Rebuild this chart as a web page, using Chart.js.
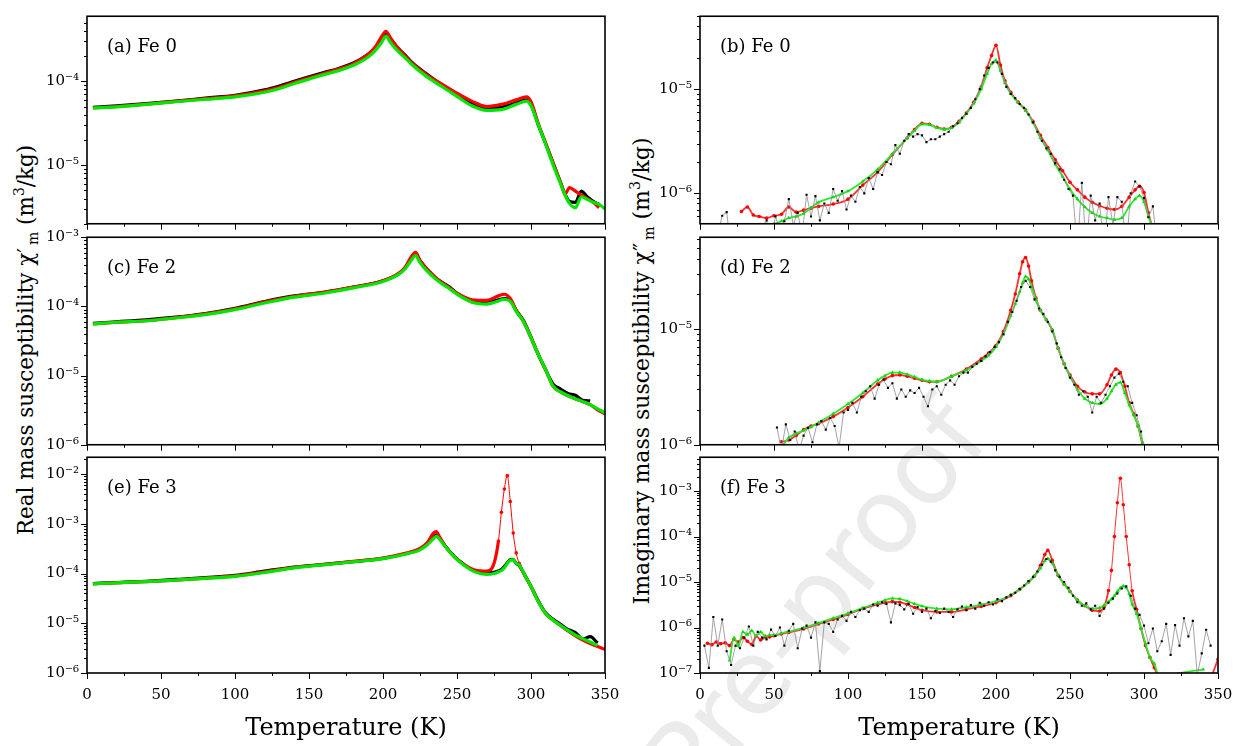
<!DOCTYPE html>
<html>
<head>
<meta charset="utf-8">
<script src="https://cdn.jsdelivr.net/npm/chart.js@4.4.1/dist/chart.umd.min.js"></script>
<style>
  body { margin: 0; background: #fff; width: 1247px; height: 746px; overflow: hidden; position: relative; font-family: "DejaVu Serif", serif; }
  .panel { position: absolute; }
  .yt { position: absolute; white-space: nowrap; color: #000; transform: translate(-50%, -50%) rotate(-90deg); }
  .yt sup, .yt sub { font-size: 0.65em; line-height: 0; }
  .wm { position: absolute; left: 815px; top: 600px; white-space: nowrap; font: 104px "DejaVu Sans", sans-serif; color: #ebebeb; transform: translate(-50%, -50%) rotate(-51deg); }
</style>
</head>
<body>
<div class="wm">Pre-proof</div>
<div class="yt" style="left:25px;top:340px;font-size:21.5px">Real mass susceptibility χ′<sub>&thinsp;m</sub> (m<sup>3</sup>/kg)</div>
<div class="yt" style="left:641px;top:371px;font-size:22px">Imaginary mass susceptibility χ″<sub>&thinsp;m</sub> (m<sup>3</sup>/kg)</div>

<script>
// (a) Fe 0, real part
const aT = [4,20,40,60,80,100,120,130,140,150,160,170,180,190,195,199,202,205,210,215,220,230,240,250,260,270,280,290,297,300,305,310,315,320,323,326,330,334,338,342,346,350];
const aBlack = [4.9e-5,5.1e-5,5.4e-5,5.8e-5,6.3e-5,6.8e-5, 7.9e-5,8.8e-5,1.0e-4,1.13e-4,1.27e-4,1.42e-4,1.65e-4,2.1e-4, 2.5e-4,3.1e-4,3.65e-4,3.2e-4,2.5e-4,2.05e-4,1.65e-4,1.2e-4, 9.0e-5,7.0e-5,5.5e-5,4.8e-5,4.9e-5,5.5e-5,6.0e-5,5.3e-5, 3.0e-5,1.8e-5,1.05e-5,6.2e-6,4.5e-6,3.7e-6,3.6e-6,4.9e-6, 4.2e-6,3.7e-6,3.4e-6,null];
const aRed = [4.8e-5,5.0e-5,5.35e-5,5.75e-5,6.2e-5,6.7e-5, 7.7e-5,8.5e-5,9.7e-5,1.1e-4,1.24e-4,1.4e-4,1.62e-4,2.1e-4, 2.6e-4,3.4e-4,3.95e-4,3.3e-4,2.5e-4,2.0e-4,1.62e-4,1.18e-4, 9.2e-5,7.2e-5,5.8e-5,5.0e-5,5.3e-5,6.0e-5,6.5e-5,5.7e-5, 3.1e-5,1.8e-5,1.05e-5,6.2e-6,4.5e-6,5.4e-6,4.9e-6,4.4e-6, 4.0e-6,3.6e-6,3.1e-6,null];
const aGreen = [4.8e-5,4.95e-5,5.3e-5,5.7e-5,6.1e-5,6.5e-5, 7.4e-5,8.2e-5,9.4e-5,1.06e-4,1.2e-4,1.34e-4,1.55e-4,1.95e-4, 2.35e-4,2.9e-4,3.45e-4,2.9e-4,2.3e-4,1.9e-4,1.55e-4,1.12e-4, 8.6e-5,6.6e-5,5.1e-5,4.5e-5,4.6e-5,5.3e-5,5.8e-5,5.1e-5, 3.0e-5,1.75e-5,1.0e-5,6.0e-6,4.4e-6,3.5e-6,3.1e-6,4.2e-6, 3.9e-6,3.6e-6,3.4e-6,3.0e-6];

// (c) Fe 2, real part
const cT = [4,20,40,60,80,100,120,140,160,180,200,210,215,219,222,225,230,237,245,250,260,270,278,282,286,290,295,300,305,310,315,320,325,330,335,340,345,350];
const cBlack = [5.7e-5,6.0e-5,6.4e-5,7.0e-5,7.9e-5,9.4e-5, 1.18e-4,1.42e-4,1.6e-4,1.9e-4,2.35e-4,2.9e-4, 3.6e-4,4.9e-4,5.7e-4,4.6e-4,3.4e-4,2.45e-4, 1.9e-4,1.55e-4,1.22e-4,1.15e-4,1.25e-4,1.3e-4, 1.22e-4,8.8e-5,6.2e-5,3.6e-5,2.0e-5,1.2e-5, 7.5e-6,6.4e-6,5.5e-6,5.2e-6,4.4e-6,4.3e-6, null,null];
const cRed = [5.6e-5,5.9e-5,6.2e-5,6.9e-5,7.8e-5,9.2e-5, 1.16e-4,1.4e-4,1.6e-4,1.9e-4,2.35e-4,2.95e-4, 3.7e-4,5.2e-4,6.05e-4,4.6e-4,3.4e-4,2.45e-4, 1.85e-4,1.55e-4,1.25e-4,1.22e-4,1.42e-4,1.5e-4, 1.3e-4,8.8e-5,6.0e-5,3.5e-5,2.0e-5,1.2e-5, 7.0e-6,5.8e-6,5.1e-6,4.6e-6,4.2e-6,3.8e-6, 3.2e-6,2.8e-6];
const cGreen = [5.6e-5,5.9e-5,6.2e-5,6.8e-5,7.6e-5,9.0e-5, 1.12e-4,1.36e-4,1.55e-4,1.85e-4,2.3e-4,2.85e-4, 3.5e-4,4.6e-4,5.45e-4,4.3e-4,3.2e-4,2.35e-4, 1.8e-4,1.5e-4,1.15e-4,1.08e-4,1.2e-4,1.27e-4, 1.18e-4,8.5e-5,6.0e-5,3.5e-5,2.0e-5,1.2e-5, 7.0e-6,5.8e-6,5.1e-6,4.6e-6,4.2e-6,3.8e-6, 3.3e-6,2.9e-6];

// (e) Fe 3, real part
const eT = [4,20,40,60,80,100,120,140,160,180,200,215,225,230,234,236,238,242,248,255,262,270,275,278,280,282,284,286,288,290,292,296,300,305,310,315,320,325,330,335,340,345,350];
const eBlack = [6.3e-5,6.6e-5,7.0e-5,7.6e-5,8.3e-5,9.2e-5, 1.12e-4,1.35e-4,1.53e-4,1.74e-4,2.02e-4,2.5e-4, 3.1e-4,4.0e-4,5.4e-4,6.0e-4,5.3e-4,3.6e-4, 2.25e-4,1.5e-4,1.12e-4,1.02e-4,1.06e-4,1.12e-4, 1.2e-4,1.38e-4,1.65e-4,1.9e-4,1.9e-4,1.6e-4, 1.45e-4,9.0e-5,5.5e-5,2.8e-5,1.6e-5,1.2e-5, 9.5e-6,7.5e-6,6.5e-6,4.8e-6,5.4e-6,4.0e-6, null];
const eRed = [6.2e-5,6.5e-5,6.9e-5,7.4e-5,8.1e-5,9.0e-5, 1.08e-4,1.33e-4,1.52e-4,1.75e-4,2.05e-4,2.55e-4, 3.2e-4,4.2e-4,6.4e-4,7.0e-4,5.6e-4,3.6e-4, 2.2e-4,1.5e-4,1.18e-4,1.12e-4,1.6e-4,4.5e-4, 1.7e-3,5.0e-3,9.3e-3,2.8e-3,6.5e-4,2.6e-4, 1.6e-4,9.0e-5,5.5e-5,2.7e-5,1.55e-5,1.15e-5, 9.0e-6,7.0e-6,5.6e-6,4.6e-6,3.9e-6,3.4e-6, 3.0e-6];
const eGreen = [6.2e-5,6.5e-5,6.9e-5,7.4e-5,8.0e-5,8.8e-5, 1.05e-4,1.3e-4,1.5e-4,1.72e-4,2.0e-4,2.45e-4, 3.0e-4,3.8e-4,5.0e-4,5.6e-4,5.0e-4,3.5e-4, 2.2e-4,1.45e-4,1.08e-4,9.6e-5,1.0e-4,1.08e-4, 1.15e-4,1.3e-4,1.6e-4,1.85e-4,1.9e-4,1.6e-4, 1.5e-4,9.0e-5,5.5e-5,2.7e-5,1.55e-5,1.15e-5, 9.0e-6,7.2e-6,5.8e-6,4.9e-6,4.2e-6,3.6e-6, null];

// (b) Fe 0, imaginary part
const bT = [28,32,36,40,45,50,55,60,65,70,75,80,90,100,110,120,130,140,145,150,155,160,165,170,175,180,185,190,194,197,200,203,206,210,215,220,225,230,235,240,245,250,255,260,265,270,275,280,285,290,294,297,300,303,306];
const bRed = [6.7e-7,7.4e-7,6.2e-7,6.0e-7,5.8e-7,6.1e-7, 6.3e-7,7.4e-7,6.6e-7,6.9e-7,7.2e-7,7.5e-7, 7.9e-7,8.8e-7,1.2e-6,1.6e-6,2.35e-6,3.4e-6, 4.1e-6,4.7e-6,4.6e-6,4.3e-6,4.15e-6,4.3e-6, 4.9e-6,5.9e-6,7.5e-6,1.05e-5,1.6e-5,2.1e-5, 2.63e-5,1.7e-5,1.2e-5,9.3e-6,7.5e-6,6.3e-6, 4.9e-6,3.6e-6,2.75e-6,2.1e-6,1.65e-6,1.28e-6, 1.08e-6,9.2e-7,8.2e-7,7.6e-7,7.2e-7,7.0e-7, 7.5e-7,9.2e-7,1.08e-6,1.17e-6,1.02e-6,6.5e-7, 4.5e-7];
const bGreen = [null,null,null,null,4.8e-7,5.1e-7, 5.4e-7,5.8e-7,6.0e-7,6.4e-7,7.3e-7,8.2e-7, 9.2e-7,1.05e-6,1.3e-6,1.7e-6,2.4e-6,3.4e-6, 4.0e-6,4.6e-6,4.55e-6,4.25e-6,4.1e-6,4.25e-6, 4.8e-6,5.8e-6,7.3e-6,1.0e-5,1.4e-5,1.75e-5, 1.89e-5,1.5e-5,1.15e-5,9.0e-6,7.4e-6,6.2e-6, 4.8e-6,3.4e-6,2.6e-6,1.9e-6,1.45e-6,1.1e-6, 8.8e-7,7.4e-7,6.5e-7,6.0e-7,5.8e-7,5.6e-7, 5.8e-7,7.5e-7,8.8e-7,9.5e-7,8.3e-7,6.0e-7, 4.5e-7];
const bBlackT = [12,15,18,21,24,27,30,33,36,39,42,45,48,51,54,57,60,63,66,69,72,75,78,81,84,87,90,93,96,99,102,105,108,111,114,117,120,123,126,129,132,135,138,141,144,147,150,153,156,159,162,165,168,171,174,177,180,183,186,189,192,195,198,201,204,207,210,213,216,219,222,225,228,231,234,237,240,243,246,249,252,255,258,261,264,267,270,273,276,279,282,285,288,291,294,297,300,303,306,309];
const bBlack = [4.0e-7,6.1e-7,6.6e-7,3.0e-7,4.0e-7,3.0e-7,4.5e-7,3.5e-7,4.2e-7,3.0e-7, 4.8e-7,5.5e-7,3.5e-7,6.0e-7,4.5e-7,5.4e-7,8.8e-7,5.0e-7,6.5e-7,4.0e-7, 9.7e-7,6.0e-7,9.4e-7,5.5e-7,8.0e-7,6.5e-7,1.1e-6,8.5e-7,1.05e-6,7.0e-7, 9.5e-7,8.3e-7,1.15e-6,1.0e-6,1.4e-6,1.1e-6,1.6e-6,1.5e-6,2.0e-6,1.9e-6, 2.9e-6,2.4e-6,3.2e-6,3.7e-6,3.5e-6,3.7e-6,3.6e-6,3.1e-6,3.3e-6,3.3e-6, 3.5e-6,3.7e-6,3.9e-6,4.4e-6,4.7e-6,5.3e-6,5.8e-6,6.6e-6,8.0e-6,1.0e-5, 1.35e-5,1.6e-5,1.8e-5,1.8e-5,1.4e-5,1.05e-5,9.0e-6,8.2e-6,7.2e-6,6.6e-6, 5.7e-6,4.8e-6,3.9e-6,3.2e-6,2.7e-6,2.4e-6,1.95e-6,1.7e-6,1.35e-6,1.1e-6, 9.5e-7,3.0e-7,1.26e-6,3.0e-7,9.5e-7,5.5e-7,8.0e-7,3.0e-7,9.2e-7,5.0e-7, 9.2e-7,8.3e-7,3.0e-7,1.0e-6,1.3e-6,1.17e-6,9.0e-7,5.9e-7,7.5e-7,3.0e-7];

// (d) Fe 2, imaginary part
const dT = [55,60,65,70,75,80,90,100,110,120,125,130,135,140,145,150,155,160,170,180,190,195,200,205,210,213,216,218,220,222,224,227,230,234,238,242,246,250,255,260,265,270,275,278,281,284,287,290,293,296,299,302];
const dRed = [1.06e-6,1.1e-6,1.2e-6,1.35e-6,1.45e-6,1.52e-6, 1.75e-6,2.1e-6,2.6e-6,3.35e-6,3.7e-6,3.95e-6, 4.0e-6,3.9e-6,3.75e-6,3.6e-6,3.5e-6,3.5e-6, 3.9e-6,4.5e-6,5.5e-6,6.2e-6,7.2e-6,9.5e-6, 1.45e-5,2.0e-5,3.0e-5,3.8e-5,4.13e-5,3.5e-5, 2.6e-5,1.85e-5,1.45e-5,1.2e-5,9.8e-6,6.8e-6, 5.0e-6,4.0e-6,3.2e-6,2.85e-6,2.75e-6,2.75e-6, 3.3e-6,4.0e-6,4.5e-6,4.2e-6,3.2e-6,2.3e-6, 1.85e-6,1.45e-6,1.0e-6,7.5e-7];
const dGreen = [9.5e-7,1.15e-6,1.25e-6,1.33e-6,1.42e-6,1.55e-6, 1.85e-6,2.25e-6,2.8e-6,3.6e-6,3.95e-6,4.2e-6, 4.2e-6,4.05e-6,3.85e-6,3.65e-6,3.55e-6,3.5e-6, 3.9e-6,4.4e-6,5.3e-6,5.9e-6,7.0e-6,9.0e-6, 1.3e-5,1.65e-5,2.1e-5,2.5e-5,2.84e-5,2.7e-5, 2.3e-5,1.8e-5,1.45e-5,1.2e-5,9.8e-6,6.8e-6, 5.0e-6,3.9e-6,3.0e-6,2.5e-6,2.3e-6,2.25e-6, 2.5e-6,2.9e-6,3.3e-6,3.45e-6,2.8e-6,2.2e-6, 1.8e-6,1.45e-6,1.05e-6,8.0e-7];
const dBlackT = [52,55,58,61,64,67,70,73,76,79,82,85,88,91,94,97,100,103,106,109,112,115,118,121,124,127,130,133,136,139,142,145,148,151,154,157,160,163,166,169,172,175,178,181,184,187,190,193,196,199,202,205,208,211,214,217,220,223,226,229,232,235,238,241,244,247,250,253,256,259,262,265,268,271,274,277,280,283,286,289,292,295,298,301];
const dBlack = [1.41e-6,9.0e-7,1.5e-6,1.1e-6,1.3e-6,9.0e-7,1.2e-6,1.4e-6,1.05e-6,1.5e-6, 1.6e-6,1.35e-6,1.7e-6,1.45e-6,9.5e-7,1.9e-6,2.0e-6,2.3e-6,1.9e-6,2.6e-6, 2.9e-6,3.2e-6,2.5e-6,3.3e-6,3.65e-6,3.1e-6,3.4e-6,2.5e-6,3.0e-6,2.6e-6, 2.95e-6,2.8e-6,3.1e-6,2.6e-6,2.15e-6,3.0e-6,3.2e-6,2.7e-6,3.3e-6,3.6e-6, 3.3e-6,3.9e-6,4.2e-6,4.2e-6,4.7e-6,5.0e-6,5.3e-6,5.8e-6,6.3e-6,7.0e-6, 7.7e-6,9.0e-6,1.15e-5,1.4e-5,1.75e-5,2.3e-5,2.6e-5,2.3e-5,1.8e-5,1.5e-5, 1.35e-5,1.15e-5,9.5e-6,7.5e-6,5.7e-6,4.6e-6,3.8e-6,3.3e-6,2.7e-6,2.9e-6, 2.6e-6,1.9e-6,2.6e-6,2.3e-6,2.7e-6,3.2e-6,3.8e-6,4.1e-6,3.5e-6,3.2e-6, 2.3e-6,1.8e-6,1.3e-6,8.0e-7];

// (f) Fe 3, imaginary part
const fT = [5,8,11,14,17,20,23,26,29,32,35,38,41,44,47,50,55,60,70,80,90,100,110,120,125,130,135,140,145,150,160,170,180,190,200,210,216,222,226,230,233,235,238,242,246,250,255,260,265,270,273,276,278,280,282,284,286,288,290,292,295,298,301,304,307,310,340,346,350];
const fRed = [4.5e-7,4.2e-7,4.8e-7,4.4e-7,4.6e-7,4.0e-7, 5.5e-7,4.8e-7,6.0e-7,5.0e-7,4.3e-7,6.5e-7, 5.3e-7,6.0e-7,6.2e-7,6.6e-7,7.2e-7,7.8e-7, 9.3e-7,1.2e-6,1.5e-6,1.95e-6,2.6e-6,3.2e-6, 3.5e-6,3.7e-6,3.6e-6,3.2e-6,2.75e-6,2.4e-6, 2.2e-6,2.2e-6,2.5e-6,2.9e-6,3.5e-6,5.0e-6, 6.9e-6,1.0e-5,1.35e-5,2.3e-5,4.0e-5,4.95e-5, 3.0e-5,1.4e-5,9.0e-6,6.2e-6,4.0e-6,3.0e-6, 2.4e-6,2.3e-6,2.8e-6,6.5e-6,1.8e-5,1.0e-4, 5.5e-4,1.9e-3,5.0e-4,1.0e-4,2.4e-5,6.4e-6, 2.5e-6,9.5e-7,4.0e-7,2.2e-7,1.3e-7,8.0e-8, null,9.0e-8,2.0e-7];
const fGreen = [null,null,null,null,null,1.9e-7, 6.0e-7,4.0e-7,8.0e-7,7.0e-7,8.5e-7,6.5e-7, 8.0e-7,6.5e-7,6.8e-7,6.8e-7,7.5e-7,8.2e-7, 9.8e-7,1.25e-6,1.6e-6,2.05e-6,2.7e-6,3.5e-6, 4.0e-6,4.35e-6,4.25e-6,3.8e-6,3.3e-6,2.95e-6, 2.6e-6,2.5e-6,2.8e-6,3.2e-6,3.8e-6,5.2e-6, 6.9e-6,1.0e-5,1.35e-5,2.0e-5,2.9e-5,3.3e-5, 2.6e-5,1.4e-5,9.0e-6,6.2e-6,4.0e-6,3.0e-6, 2.6e-6,2.7e-6,3.1e-6,3.7e-6,4.2e-6,5.0e-6, 6.2e-6,7.4e-6,8.2e-6,7.5e-6,5.5e-6,3.2e-6, 2.0e-6,9.5e-7,4.5e-7,2.2e-7,1.6e-7,9.0e-8, 1.2e-7,null,null];
const fBlackT = [3,6,9,12,15,18,21,24,27,30,33,36,39,42,45,48,51,54,57,60,63,66,69,72,75,78,81,84,87,90,93,96,99,102,105,108,111,114,117,120,123,126,129,132,135,138,141,144,147,150,153,156,159,162,165,168,171,174,177,180,183,186,189,192,195,198,201,204,207,210,213,216,219,222,225,228,231,234,237,240,243,246,249,252,255,258,261,264,267,270,273,276,279,282,285,288,291,294,297,300,303,306,309,312,315,318,321,324,327,330,333,336,339,342,345];
const fBlack = [4.0e-7,1.3e-7,1.7e-6,4.0e-7,1.5e-6,3.0e-7,1.5e-7,4.0e-7,3.5e-7,6.0e-7, 1.05e-6,4.0e-7,8.0e-7,6.0e-7,5.5e-7,9.0e-7,6.5e-7,1.0e-6,4.0e-7,8.5e-7, 1.2e-6,3.5e-7,9.5e-7,1.1e-6,6.0e-7,1.3e-6,1.1e-7,1.3e-6,1.2e-6,8.0e-7, 1.5e-6,1.8e-6,1.4e-6,2.2e-6,1.7e-6,2.4e-6,2.6e-6,2.2e-6,3.2e-6,3.0e-6, 3.6e-6,3.3e-6,1.3e-6,3.4e-6,3.1e-6,2.5e-6,3.3e-6,2.0e-6,2.8e-6,2.2e-6, 2.6e-6,1.6e-6,2.3e-6,2.1e-6,2.6e-6,2.2e-6,1.7e-6,2.5e-6,2.9e-6,2.4e-6, 3.1e-6,2.6e-6,3.5e-6,3.0e-6,3.6e-6,3.2e-6,4.2e-6,3.8e-6,4.6e-6,5.2e-6, 5.8e-6,7.0e-6,8.4e-6,1.05e-5,1.3e-5,1.7e-5,2.4e-5,3.2e-5,2.8e-5,1.8e-5, 1.3e-5,1.0e-5,7.5e-6,5.0e-6,3.6e-6,3.0e-6,3.4e-6,2.5e-6,3.0e-6,1.8e-6, 2.6e-6,3.5e-6,4.3e-6,5.6e-6,7.2e-6,8.0e-6,5.0e-6,2.6e-6,1.9e-6,1.1e-6, 4.5e-7,9.5e-7,3.0e-7,5.0e-7,1.2e-6,2.5e-7,1.13e-6,4.0e-7,1.6e-6,6.4e-7, 1.4e-6,9.0e-8,2.7e-7,8.9e-7,4.0e-7];

const FONT = '"DejaVu Serif", serif';
const SUP = { '-': '⁻', '0': '⁰', '1': '¹', '2': '²', '3': '³', '4': '⁴', '5': '⁵', '6': '⁶', '7': '⁷', '8': '⁸', '9': '⁹' };

function isPow10(v) {
  const e = Math.log10(v);
  return Math.abs(e - Math.round(e)) < 1e-9;
}

function pts(T, vals) {
  return T.map((t, i) => ({ x: t, y: vals[i] }));
}

// frame, tick marks and the panel label
const panelDecor = {
  id: 'panelDecor',
  afterDraw(chart, args, opts) {
    const { ctx, chartArea: a, scales: { x, y } } = chart;
    ctx.save();
    ctx.strokeStyle = '#000';
    ctx.lineWidth = 1;
    ctx.beginPath();
    x.ticks.forEach(t => {
      const px = Math.round(x.getPixelForValue(t.value)) + 0.5;
      const len = t.value % 50 === 0 ? 6 : 3;
      ctx.moveTo(px, a.bottom);
      ctx.lineTo(px, a.bottom + len);
    });
    y.ticks.forEach(t => {
      const e = Math.floor(Math.log10(t.value) + 1e-9);
      const m = t.value / Math.pow(10, e);
      if (Math.abs(m - Math.round(m)) > 1e-6) return;
      const py = Math.round(y.getPixelForValue(t.value)) + 0.5;
      const len = Math.round(m) === 1 ? 6 : 3;
      ctx.moveTo(a.left - len, py);
      ctx.lineTo(a.left, py);
    });
    ctx.stroke();
    ctx.lineWidth = 1.6;
    ctx.strokeRect(a.left, a.top, a.right - a.left, a.bottom - a.top);
    ctx.fillStyle = '#000';
    ctx.font = '18px ' + FONT;
    ctx.textBaseline = 'middle';
    ctx.fillText(opts.label, a.left + 20, a.top + 31);
    ctx.restore();
  }
};

// spike: temperature span drawn as a thin line with dots (sharp red peak)
const panels = [
  { col: 0, row: 0, label: '(a) Fe 0', yMin: 2.0e-6, yMax: 5.96e-4, kind: 'real', T: aT, black: aBlack, red: aRed, green: aGreen },
  { col: 0, row: 1, label: '(c) Fe 2', yMin: 1e-6, yMax: 1e-3, kind: 'real', T: cT, black: cBlack, red: cRed, green: cGreen },
  { col: 0, row: 2, label: '(e) Fe 3', yMin: 1e-6, yMax: 2.18e-2, kind: 'real', T: eT, black: eBlack, red: eRed, green: eGreen, spike: [276, 292] },
  { col: 1, row: 0, label: '(b) Fe 0', yMin: 5.11e-7, yMax: 5.0e-5, kind: 'imag', T: bT, red: bRed, green: bGreen, blackT: bBlackT, black: bBlack },
  { col: 1, row: 1, label: '(d) Fe 2', yMin: 1e-6, yMax: 6.19e-5, kind: 'imag', T: dT, red: dRed, green: dGreen, blackT: dBlackT, black: dBlack },
  { col: 1, row: 2, label: '(f) Fe 3', yMin: 1e-7, yMax: 5.52e-3, kind: 'imag', T: fT, red: fRed, green: fGreen, blackT: fBlackT, black: fBlack, spike: [276, 292] }
];

const COLS = [
  { left: 0, width: 635, yw: 87, padRight: 30 },
  { left: 614, width: 634, yw: 86, padRight: 30 }
];
const ROWS = [
  { top: 0, padTop: 9, area: 221, xh: 10 },
  { top: 221, padTop: 9, area: 221, xh: 10 },
  { top: 441, padTop: 10, area: 222, xh: 73 }
];

function datasets(p) {
  const inSpike = x => p.spike && x >= p.spike[0] && x <= p.spike[1];
  if (p.kind === 'real') {
    const line = (vals, color, order, spiky) => ({
      data: pts(p.T, vals), borderColor: color, backgroundColor: color,
      borderWidth: 3.2, cubicInterpolationMode: 'monotone', clip: 0, order,
      pointRadius: ctx => (spiky && ctx.raw && inSpike(ctx.raw.x) ? 1.8 : 0),
      pointBorderWidth: 0,
      segment: spiky ? { borderWidth: ctx => (inSpike(ctx.p0.parsed.x) && inSpike(ctx.p1.parsed.x) ? 1 : 3.2) } : undefined
    });
    return [line(p.black, '#000000', 3, false), line(p.red, '#ff0000', 2, true), line(p.green, '#00e600', 1, false)];
  }
  return [
    { data: pts(p.T, p.red), borderColor: '#ff3030', backgroundColor: '#ff0000', borderWidth: 1.8,
      pointStyle: 'circle', pointRadius: 1.8, pointBorderWidth: 0, cubicInterpolationMode: 'monotone', clip: 0, order: 3,
      segment: { borderWidth: ctx => (inSpike(ctx.p0.parsed.x) && inSpike(ctx.p1.parsed.x) ? 1 : 1.8) } },
    { data: pts(p.T, p.green), borderColor: '#30e630', backgroundColor: '#00e000', borderWidth: 1.8,
      pointStyle: 'triangle', pointRadius: 2.2, pointBorderWidth: 0, cubicInterpolationMode: 'monotone', clip: 0, order: 2 },
    { data: pts(p.blackT, p.black), borderColor: '#8c8c8c', backgroundColor: '#000000', borderWidth: 0.8,
      pointStyle: 'rect', pointRadius: 1.5, pointBorderWidth: 0, tension: 0, clip: 0, order: 1 }
  ];
}

panels.forEach(p => {
  const col = COLS[p.col], row = ROWS[p.row];
  const div = document.createElement('div');
  div.className = 'panel';
  div.style.left = col.left + 'px';
  div.style.top = row.top + 'px';
  div.style.width = col.width + 'px';
  div.style.height = (row.padTop + row.area + row.xh) + 'px';
  const canvas = document.createElement('canvas');
  div.appendChild(canvas);
  document.body.appendChild(div);
  const bottomRow = p.row === 2;

  new Chart(canvas, {
    type: 'line',
    data: { datasets: datasets(p) },
    options: {
      responsive: true,
      maintainAspectRatio: false,
      animation: false,
      events: [],
      layout: { padding: { top: row.padTop, right: col.padRight, bottom: 0, left: 0 } },
      plugins: {
        legend: { display: false },
        tooltip: { enabled: false },
        panelDecor: { label: p.label }
      },
      scales: {
        x: {
          type: 'linear', min: 0, max: 350,
          grid: { display: false, drawTicks: false },
          border: { display: false },
          ticks: {
            stepSize: 25, autoSkip: false, maxRotation: 0, padding: 13,
            color: '#000', font: { family: FONT, size: 15 },
            callback: v => (bottomRow && v % 50 === 0 ? String(v) : '')
          },
          title: {
            display: bottomRow, text: 'Temperature (K)', color: '#000',
            font: { family: FONT, size: 24 }, padding: { top: 0, bottom: 3 }
          },
          afterFit: s => { s.height = row.xh; }
        },
        y: {
          type: 'logarithmic', min: p.yMin, max: p.yMax,
          grid: { display: false, drawTicks: false },
          border: { display: false },
          ticks: {
            autoSkip: false, padding: 8, color: '#000',
            font: { family: FONT, size: 15, lineHeight: 1.1 },
            callback: v => {
              if (!isPow10(v)) return '';
              const e = String(Math.round(Math.log10(v)));
              return '10' + e.split('').map(c => SUP[c]).join('');
            }
          },
          afterFit: s => { s.width = col.yw; }
        }
      }
    },
    plugins: [panelDecor]
  });
});
</script>
</body>
</html>
